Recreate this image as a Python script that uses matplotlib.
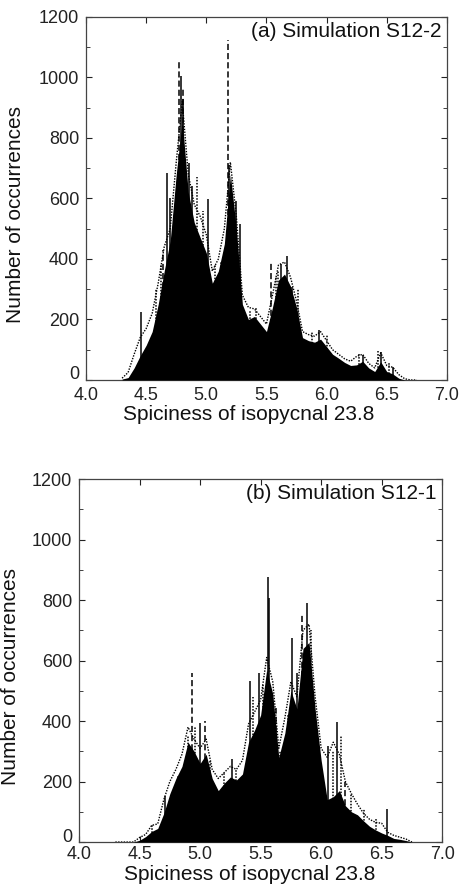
import numpy as np
import matplotlib.pyplot as plt
from matplotlib.ticker import MultipleLocator

plt.rcParams["font.family"] = ["Liberation Sans", "DejaVu Sans"]
plt.rcParams["text.parse_math"] = False

# spiciness grid (bin centres)
x_grid = [4.30, 4.35, 4.40, 4.45, 4.50, 4.55, 4.60, 4.65, 4.70, 4.75,
          4.80, 4.85, 4.90, 4.95, 5.00, 5.05, 5.10, 5.15, 5.20, 5.25,
          5.30, 5.35, 5.40, 5.45, 5.50, 5.55, 5.60, 5.65, 5.70, 5.75,
          5.80, 5.85, 5.90, 5.95, 6.00, 6.05, 6.10, 6.15, 6.20, 6.25,
          6.30, 6.35, 6.40, 6.45, 6.50, 6.55, 6.60, 6.65, 6.70, 6.75]

# (a) S12-2: dense core and the dotted outer fringe
core_a = [3, 8, 40, 80, 115, 160, 250, 360, 460, 680,
          860, 620, 520, 470, 420, 320, 360, 450, 680, 500,
          250, 200, 210, 185, 160, 240, 330, 350, 310, 240,
          140, 130, 125, 135, 110, 85, 72, 58, 48, 50,
          62, 40, 28, 60, 28, 20, 6, 0, 0, 0]
fringe_a = [6, 25, 85, 140, 170, 220, 320, 440, 500, 720,
            920, 680, 580, 540, 480, 360, 400, 500, 720, 540,
            280, 240, 235, 210, 185, 280, 380, 390, 340, 260,
            160, 150, 145, 160, 130, 100, 85, 70, 62, 78,
            85, 55, 40, 90, 48, 42, 18, 4, 0, 0]
spk_a_x = [4.46, 4.67, 4.70, 4.79, 4.81, 4.86, 4.88, 5.01, 5.19, 5.245, 5.28, 5.62, 5.67, 5.71, 5.94, 6.30, 6.455, 6.55]
spk_a_y = [226, 683, 600, 1005, 930, 716, 640, 598, 710, 592, 517, 385, 410, 308, 165, 83, 94, 44]
dash_a_x = [4.77, 4.81, 5.18, 5.54, 4.64]
dash_a_y = [1057, 963, 1123, 390, 430]
dot_a_x = [4.58, 4.62, 4.74, 4.92, 4.97, 5.07, 5.12, 5.15, 5.36, 5.41, 5.58, 5.60, 5.76, 5.88, 6.00, 6.27, 6.43, 6.52]
dot_a_y = [300, 380, 560, 672, 560, 380, 390, 420, 230, 240, 340, 360, 300, 160, 150, 90, 95, 60]

# (b) S12-1
core_b = [0, 0, 0, 0, 6, 18, 35, 45, 95, 160,
          210, 250, 330, 300, 260, 290, 210, 170, 195, 215,
          205, 225, 330, 370, 420, 570, 490, 280, 360, 500,
          440, 640, 660, 440, 270, 140, 150, 170, 120, 100,
          90, 70, 52, 40, 30, 22, 12, 9, 5, 0]
fringe_b = [0, 0, 0, 0, 15, 25, 55, 60, 140, 200,
            240, 290, 380, 340, 310, 340, 240, 210, 230, 250,
            240, 270, 390, 430, 470, 610, 530, 310, 410, 530,
            480, 700, 720, 480, 310, 280, 330, 290, 200, 160,
            125, 95, 75, 65, 62, 32, 22, 16, 10, 0]
spk_b_x = [4.71, 5.00, 5.26, 5.41, 5.49, 5.56, 5.57, 5.76, 5.88, 6.06, 6.13, 6.54, 5.80]
spk_b_y = [152, 393, 273, 533, 560, 877, 808, 674, 789, 318, 397, 110, 560]
dash_b_x = [4.93, 5.04, 5.63, 5.84, 6.20]
dash_b_y = [560, 400, 444, 753, 200]
dot_b_x = [4.60, 4.82, 4.90, 4.96, 5.08, 5.20, 5.30, 5.44, 5.52, 5.66, 5.73, 5.92, 6.10, 6.16, 6.25, 6.35, 6.45]
dot_b_y = [55, 220, 350, 380, 270, 230, 240, 480, 520, 300, 420, 700, 300, 350, 160, 110, 80]

panels = [
    ("(a) Simulation S12-2", core_a, fringe_a, spk_a_x, spk_a_y, dash_a_x, dash_a_y, dot_a_x, dot_a_y,
     [0.185, 0.574, 0.776, 0.407], (0.45, -0.07), (-0.17, 0.455), 5),
    ("(b) Simulation S12-1", core_b, fringe_b, spk_b_x, spk_b_y, dash_b_x, dash_b_y, dot_b_x, dot_b_y,
     [0.170, 0.056, 0.781, 0.407], (0.47, -0.062), (-0.163, 0.457), 2.5),
]

fig = plt.figure(figsize=(4.65, 8.92), dpi=100)

for title, core, fringe, sx, sy, dx, dy, ox, oy, rect, xl, yl, xpad in panels:
    ax = fig.add_axes(rect)
    ax.fill_between(x_grid, core, color="black", lw=0, zorder=3)
    ax.plot(x_grid, fringe, color="black", lw=1.0, ls=(0, (1, 1)), zorder=2)
    ax.vlines(sx, 0, sy, color="black", lw=1.1, zorder=4)
    ax.vlines(dx, 0, dy, color="black", lw=1.1, linestyles=(0, (4, 2)), zorder=4)
    ax.vlines(ox, 0, oy, color="black", lw=1.1, linestyles=(0, (1, 1)), zorder=4)

    ax.set_xlim(4.0, 7.0)
    ax.set_ylim(0, 1200)
    ax.xaxis.set_major_locator(MultipleLocator(0.5))
    ax.yaxis.set_major_locator(MultipleLocator(200))
    ax.yaxis.set_minor_locator(MultipleLocator(100))
    ax.xaxis.set_major_formatter(plt.FuncFormatter(lambda v, p: f"{v:.1f}"))
    # "0" is drawn separately below so it can sit just above the corner
    ax.yaxis.set_major_formatter(plt.FuncFormatter(lambda v, p: "" if v == 0 else f"{v:.0f}"))
    ax.tick_params(which="both", direction="in", top=True, right=True,
                   labelsize=13, colors="#222222")
    ax.tick_params(axis="x", pad=xpad)
    ax.tick_params(axis="y", pad=5)
    ax.tick_params(which="major", length=4)
    ax.tick_params(which="minor", length=3)
    for s in ax.spines.values():
        s.set_color("#444444")
        s.set_linewidth(0.9)
    ax.annotate("0", xy=(0, 0), xycoords="axes fraction", xytext=(-5, -2.5),
                textcoords="offset points", ha="right", va="bottom",
                fontsize=13, color="#222222")

    ax.text(0.985, 0.985, title, transform=ax.transAxes, ha="right", va="top",
            fontsize=15, color="#111111")
    ax.set_xlabel("Spiciness of isopycnal 23.8", fontsize=15, color="#111111")
    ax.set_ylabel("Number of occurrences", fontsize=15, color="#111111")
    ax.xaxis.set_label_coords(*xl)
    ax.yaxis.set_label_coords(*yl)

fig.savefig("out.png", dpi=100)
